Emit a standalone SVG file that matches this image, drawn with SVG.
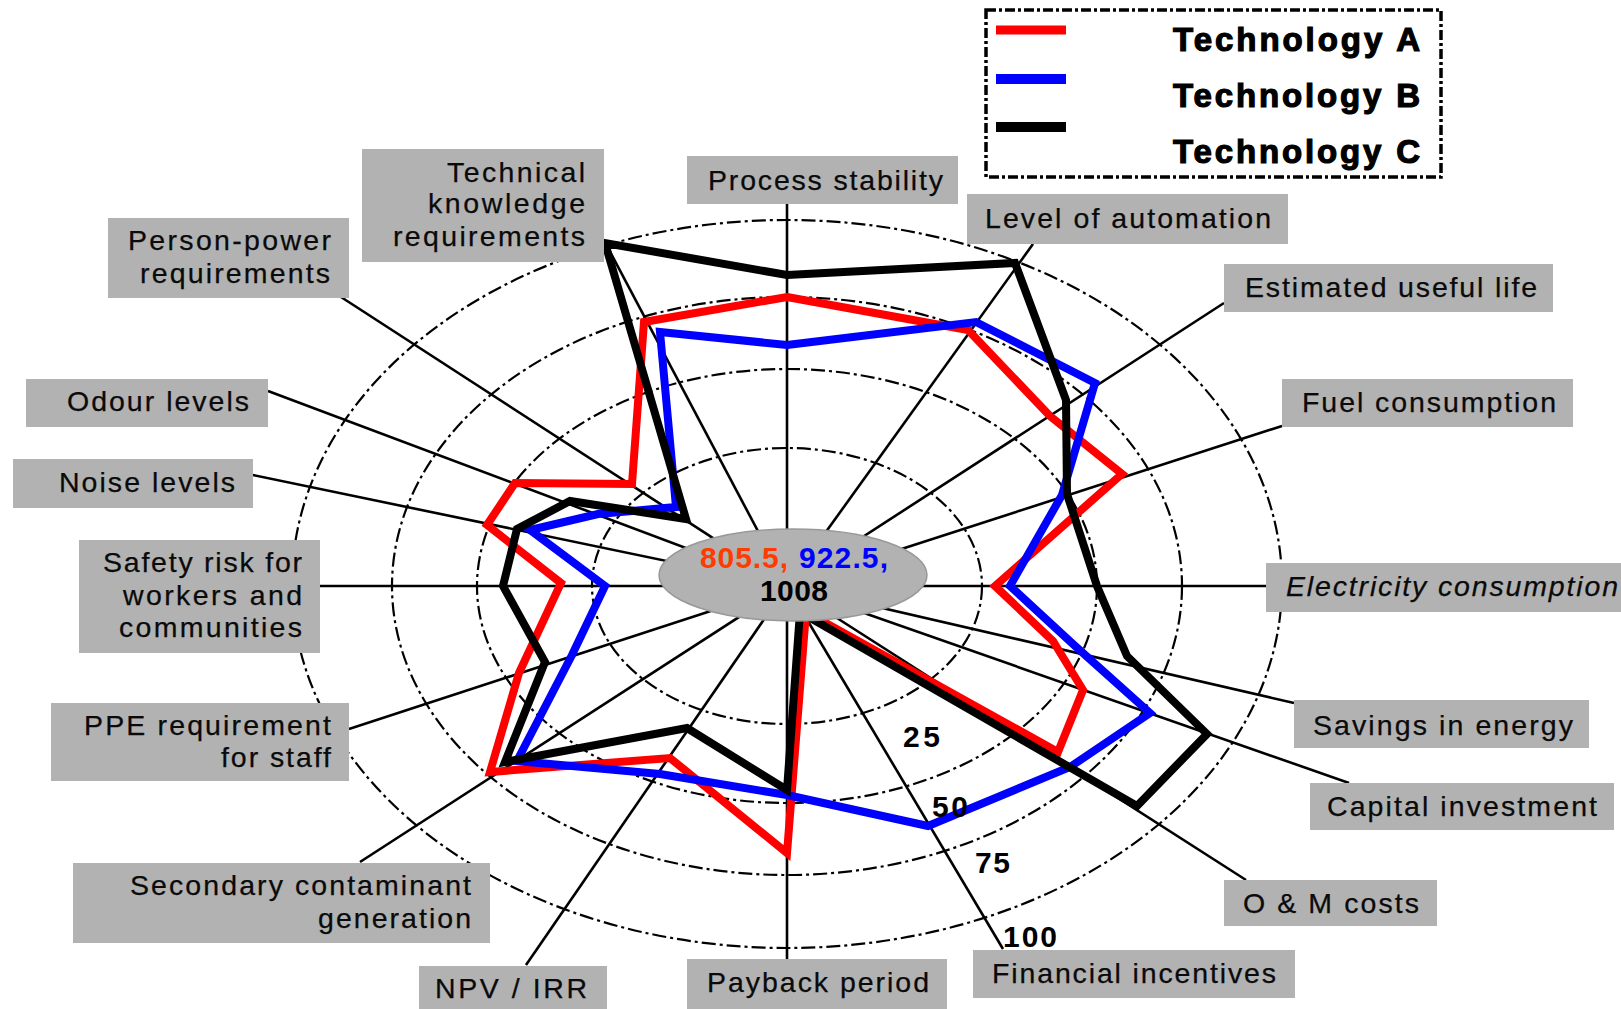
<svg xmlns="http://www.w3.org/2000/svg" width="1621" height="1009" viewBox="0 0 1621 1009">
<style>
.ring{fill:none;stroke:#000;stroke-width:2.2;stroke-dasharray:14 4 3 4}
.axis{stroke:#000;stroke-width:2.6;fill:none}
.box{fill:#b2b2b2}
.lbl{font-family:"Liberation Sans",Arial,sans-serif;font-size:28.5px;fill:#0a0a0a;stroke:#0a0a0a;stroke-width:0.25}
.num{font-family:"Liberation Sans",Arial,sans-serif;font-size:30px;font-weight:bold;fill:#000}
.leg{font-family:"Liberation Sans",Arial,sans-serif;font-size:33px;font-weight:bold;fill:#000;stroke:#000;stroke-width:1.2}
.ser{fill:none;stroke-width:8;stroke-linejoin:miter;stroke-miterlimit:10}
</style>
<rect width="1621" height="1009" fill="#fff"/>
<g id="grid">
<ellipse class="ring" cx="787" cy="586" rx="195" ry="138"/>
<ellipse class="ring" cx="787" cy="586" rx="310" ry="217"/>
<ellipse class="ring" cx="787" cy="586" rx="395" ry="289"/>
<ellipse class="ring" cx="787" cy="584" rx="495" ry="364"/>
</g>
<g id="connectors">
<line class="axis" x1="787" y1="586" x2="787" y2="204"/>
<line class="axis" x1="787" y1="586" x2="1033" y2="244"/>
<line class="axis" x1="787" y1="586" x2="1224" y2="303"/>
<line class="axis" x1="787" y1="586" x2="1282" y2="426"/>
<line class="axis" x1="787" y1="586" x2="1266" y2="586"/>
<line class="axis" x1="787" y1="586" x2="1294" y2="703"/>
<line class="axis" x1="787" y1="586" x2="1349" y2="783"/>
<line class="axis" x1="787" y1="586" x2="1246" y2="880"/>
<line class="axis" x1="787" y1="586" x2="1003" y2="949"/>
<line class="axis" x1="787" y1="586" x2="787" y2="959"/>
<line class="axis" x1="787" y1="586" x2="526" y2="965"/>
<line class="axis" x1="787" y1="586" x2="360" y2="862"/>
<line class="axis" x1="787" y1="586" x2="349" y2="729"/>
<line class="axis" x1="787" y1="586" x2="320" y2="586"/>
<line class="axis" x1="787" y1="586" x2="253" y2="475"/>
<line class="axis" x1="787" y1="586" x2="268" y2="391"/>
<line class="axis" x1="787" y1="586" x2="341" y2="297"/>
<line class="axis" x1="787" y1="586" x2="607" y2="246"/>
</g>
<g id="series">
<polygon id="techA" class="ser" stroke="#ff0000" points="787,297 968,330 1050,416 1122,474 995,586 1053,641 1083,690 1058,752 806,612 787,853 670,758 490,772 519,673 561,583 487,525 515,483 632,484 644,322"/>
<polygon id="techB" class="ser" stroke="#0000ff" points="787,345 976,322 1095,383 1062,495 1010,586 1074,645 1150,713 1070,767 928,826 787,795 660,774 517,761 572,655 605,586 530,530 598,514 676,507 660,332"/>
<polygon id="techC" class="ser" stroke="#000" stroke-width="9" points="787,275 1015,263 1066,400 1067,494 1097,586 1127,656 1207,734 1137,806 800,612 787,790 687,728 505,762 545,662 503,586 517,529 570,501 686,519 605,243"/>
</g>
<g id="center">
<ellipse cx="793" cy="575" rx="134" ry="46" fill="#b2b2b2" stroke="#999" stroke-width="1.5"/>
<text class="num" x="700" y="568" textLength="88" lengthAdjust="spacing" style="fill:#ff3c00">805.5,</text>
<text class="num" x="799" y="568" textLength="89" lengthAdjust="spacing" style="fill:#0000ff">922.5,</text>
<text class="num" x="760" y="601" textLength="68" lengthAdjust="spacing">1008</text>
</g>
<g id="scale">
<text class="num" x="903" y="747" textLength="37" lengthAdjust="spacing">25</text>
<text class="num" x="932" y="817" textLength="36" lengthAdjust="spacing">50</text>
<text class="num" x="975" y="873" textLength="35" lengthAdjust="spacing">75</text>
<text class="num" x="1003" y="947" textLength="54" lengthAdjust="spacing">100</text>
</g>
<g id="node-process-stability"><rect class="box" x="687" y="156" width="271" height="48"/><text class="lbl" x="708" y="190" textLength="235" lengthAdjust="spacing">Process stability</text></g>
<g id="node-level-of-automation"><rect class="box" x="967" y="194" width="321" height="50"/><text class="lbl" x="985" y="228" textLength="286" lengthAdjust="spacing">Level of automation</text></g>
<g id="node-estimated-useful-life"><rect class="box" x="1224" y="264" width="329" height="48"/><text class="lbl" x="1245" y="297" textLength="292" lengthAdjust="spacing">Estimated useful life</text></g>
<g id="node-fuel-consumption"><rect class="box" x="1282" y="379" width="291" height="48"/><text class="lbl" x="1302" y="412" textLength="254" lengthAdjust="spacing">Fuel consumption</text></g>
<g id="node-electricity-consumption"><rect class="box" x="1266" y="563" width="355" height="49"/><text class="lbl" x="1286" y="596" textLength="332" lengthAdjust="spacing" font-style="italic">Electricity consumption</text></g>
<g id="node-savings-in-energy"><rect class="box" x="1294" y="700" width="295" height="48"/><text class="lbl" x="1313" y="735" textLength="260" lengthAdjust="spacing">Savings in energy</text></g>
<g id="node-capital-investment"><rect class="box" x="1310" y="783" width="304" height="47"/><text class="lbl" x="1327" y="816" textLength="270" lengthAdjust="spacing">Capital investment</text></g>
<g id="node-om-costs"><rect class="box" x="1224" y="880" width="213" height="46"/><text class="lbl" x="1243" y="913" textLength="176" lengthAdjust="spacing">O &amp; M costs</text></g>
<g id="node-financial-incentives"><rect class="box" x="973" y="950" width="322" height="48"/><text class="lbl" x="992" y="983" textLength="284" lengthAdjust="spacing">Financial incentives</text></g>
<g id="node-payback-period"><rect class="box" x="687" y="959" width="260" height="50"/><text class="lbl" x="707" y="992" textLength="222" lengthAdjust="spacing">Payback period</text></g>
<g id="node-npv-irr"><rect class="box" x="419" y="966" width="188" height="43"/><text class="lbl" x="435" y="998" textLength="152" lengthAdjust="spacing">NPV / IRR</text></g>
<g id="node-secondary-contaminant"><rect class="box" x="73" y="863" width="417" height="80"/><text class="lbl" x="130" y="895" textLength="341" lengthAdjust="spacing">Secondary contaminant</text><text class="lbl" x="318" y="928" textLength="153" lengthAdjust="spacing">generation</text></g>
<g id="node-ppe-requirement"><rect class="box" x="51" y="703" width="298" height="78"/><text class="lbl" x="84" y="735" textLength="247" lengthAdjust="spacing">PPE requirement</text><text class="lbl" x="221" y="767" textLength="110" lengthAdjust="spacing">for staff</text></g>
<g id="node-safety-risk"><rect class="box" x="79" y="540" width="241" height="113"/><text class="lbl" x="103" y="572" textLength="199" lengthAdjust="spacing">Safety risk for</text><text class="lbl" x="123" y="605" textLength="179" lengthAdjust="spacing">workers and</text><text class="lbl" x="119" y="637" textLength="183" lengthAdjust="spacing">communities</text></g>
<g id="node-noise-levels"><rect class="box" x="13" y="459" width="240" height="49"/><text class="lbl" x="59" y="492" textLength="176" lengthAdjust="spacing">Noise levels</text></g>
<g id="node-odour-levels"><rect class="box" x="26" y="379" width="242" height="48"/><text class="lbl" x="67" y="411" textLength="182" lengthAdjust="spacing">Odour levels</text></g>
<g id="node-person-power"><rect class="box" x="108" y="218" width="241" height="80"/><text class="lbl" x="128" y="250" textLength="203" lengthAdjust="spacing">Person-power</text><text class="lbl" x="140" y="283" textLength="190" lengthAdjust="spacing">requirements</text></g>
<g id="node-technical-knowledge"><rect class="box" x="362" y="149" width="242" height="113"/><text class="lbl" x="447" y="182" textLength="138" lengthAdjust="spacing">Technical</text><text class="lbl" x="428" y="213" textLength="157" lengthAdjust="spacing">knowledge</text><text class="lbl" x="393" y="246" textLength="192" lengthAdjust="spacing">requirements</text></g>
<g id="legend">
<rect x="986" y="10" width="455" height="167" fill="none" stroke="#000" stroke-width="3.5" stroke-dasharray="10 3 3 3"/>
<line x1="996" y1="30" x2="1066" y2="30" stroke="#ff0000" stroke-width="9"/>
<line x1="996" y1="79" x2="1066" y2="79" stroke="#0000ff" stroke-width="10"/>
<line x1="996" y1="127" x2="1066" y2="127" stroke="#000" stroke-width="10"/>
<text class="leg" x="1173" y="51" textLength="247" lengthAdjust="spacing">Technology A</text>
<text class="leg" x="1173" y="107" textLength="247" lengthAdjust="spacing">Technology B</text>
<text class="leg" x="1173" y="163" textLength="247" lengthAdjust="spacing">Technology C</text>
</g>
</svg>
